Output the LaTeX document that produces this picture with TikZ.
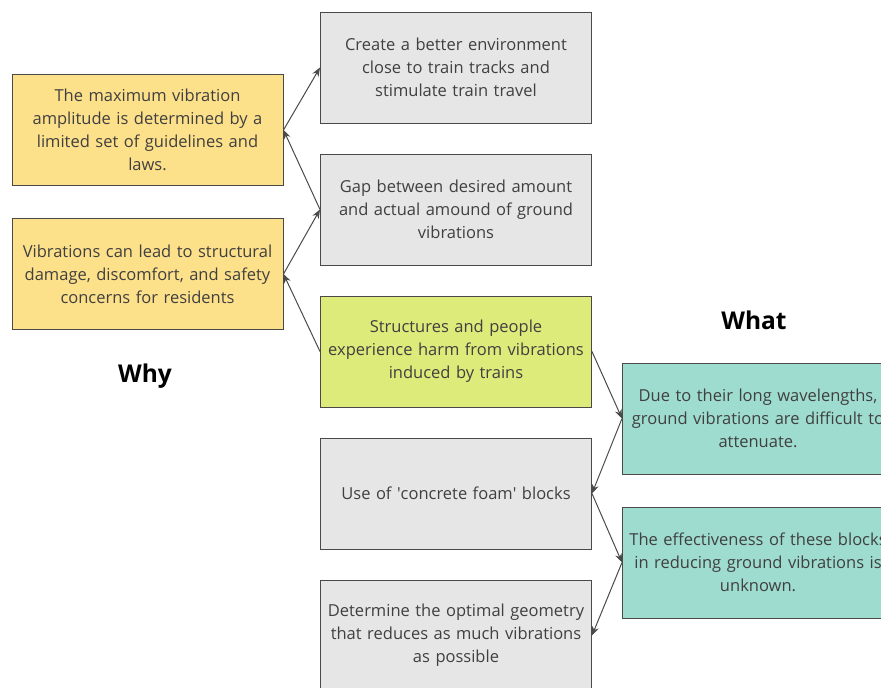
\documentclass[tikz,border=0pt]{standalone}
\usepackage{fontspec}
\setmainfont{Open Sans}
\usepackage{xcolor}
\usepackage{tikz}
\usetikzlibrary{arrows.meta}
\definecolor{ink}{HTML}{404040}
\definecolor{edge}{HTML}{4A4A4A}
\definecolor{sand}{HTML}{FDE08A}
\definecolor{lime}{HTML}{DCEB7A}
\definecolor{mist}{HTML}{E6E6E6}
\definecolor{teal}{HTML}{9EDCCF}
\tikzset{
  box/.style={draw=edge, line width=1pt, minimum width=271pt, minimum height=111pt,
    text width=266pt, align=center, inner sep=0pt, text=ink,
    font=\fontsize{16.5}{23}\selectfont},
  why/.style={box, fill=sand},
  how/.style={box, fill=mist},
  core/.style={box, fill=lime},
  what/.style={box, fill=teal},
  link/.style={draw=edge, line width=1pt, -{Stealth[length=9pt,width=7pt]}},
  head/.style={text=black, font=\fontsize{24.5}{28}\selectfont\bfseries},
}
\begin{document}
\begin{tikzpicture}[x=1pt,y=-1pt]
  \useasboundingbox (0,0) rectangle (881,688);
  \fill[white] (0,0) rectangle (881,688);

  % why column
  \node[why] (limit) at (147.5,130) {The maximum vibration\\amplitude is determined by a\\limited set of guidelines and\\laws.};
  \node[why] (harm) at (147.5,274) {Vibrations can lead to structural\\damage, discomfort, and safety\\concerns for residents};
  \node[head] (whylab) at (145,376) {Why};

  % middle column
  \node[how] (env) at (456,67.5) {Create a better environment\\close to train tracks and\\stimulate train travel};
  \node[how] (gap) at (456,209.5) {Gap between desired amount\\and actual amound of ground\\vibrations};
  \node[core] (problem) at (456,351.5) {Structures and people\\experience harm from vibrations\\induced by trains};
  \node[how] (foam) at (456,493.5) {Use of \textquotesingle concrete foam\textquotesingle{} blocks};
  \node[how] (geom) at (456,635.5) {Determine the optimal geometry\\that reduces as much vibrations\\as possible};

  % what column
  \node[head] (whatlab) at (754,320) {What};
  \node[what] (wave) at (758,418.5) {Due to their long wavelengths,\\ground vibrations are difficult to\\attenuate.};
  \node[what] (effect) at (758,562.5) {The effectiveness of these blocks\\in reducing ground vibrations is\\unknown.};

  \draw[link] (limit.east) -- (env.west);
  \draw[link] (gap.west) -- (limit.east);
  \draw[link] (harm.east) -- (gap.west);
  \draw[link] (problem.west) -- (harm.east);
  \draw[link] (problem.east) -- (wave.west);
  \draw[link] (wave.west) -- (foam.east);
  \draw[link] (foam.east) -- (effect.west);
  \draw[link] (effect.west) -- (geom.east);
\end{tikzpicture}
\end{document}
